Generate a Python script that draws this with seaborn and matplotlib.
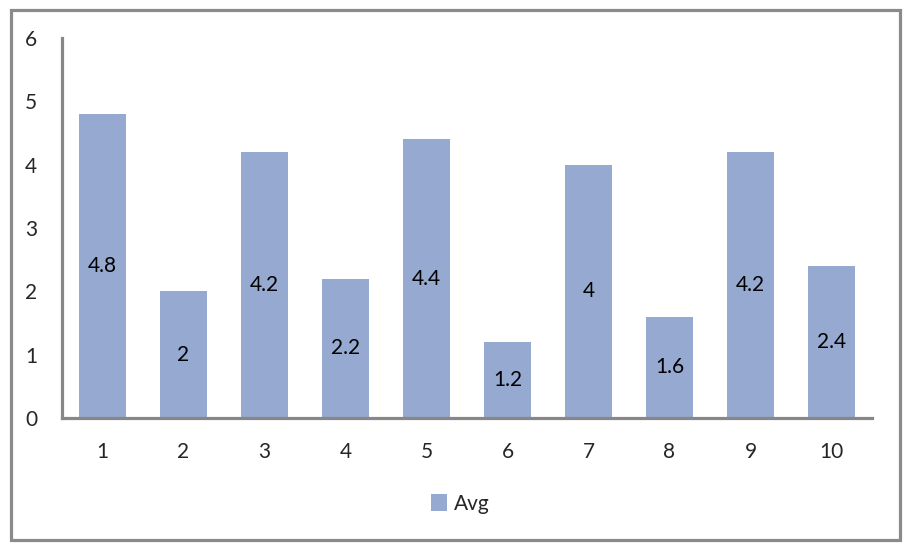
import matplotlib
matplotlib.use("Agg")
import matplotlib.pyplot as plt
import seaborn as sns
import pandas as pd
from matplotlib.patches import Rectangle, Patch

categories = ["1", "2", "3", "4", "5", "6", "7", "8", "9", "10"]
avg = [4.8, 2, 4.2, 2.2, 4.4, 1.2, 4, 1.6, 4.2, 2.4]
labels = ["4.8", "2", "4.2", "2.2", "4.4", "1.2", "4", "1.6", "4.2", "2.4"]
series_name = "Avg"
yticks = [0, 1, 2, 3, 4, 5, 6]

sns.set_theme(style="white")
plt.rcParams['font.family'] = ['Lato', 'DejaVu Sans']

df = pd.DataFrame({"cat": categories, "val": avg})
bar_color = "#95a9d1"
grey = "#878787"
fs = 15

fig = plt.figure(figsize=(9.16, 5.53), dpi=100)
W, H = 916, 553
ax = fig.add_axes([62 / W, (H - 418) / H, (872 - 62) / W, (418 - 38) / H])

sns.barplot(data=df, x="cat", y="val", color=bar_color, saturation=1,
            width=0.57, ax=ax, edgecolor="none")

for i, (v, lab) in enumerate(zip(avg, labels)):
    ax.text(i, v / 2, lab, ha="center", va="center", fontsize=fs, color="black")

ax.set_ylim(0, 6)
ax.set_xlim(-0.5, len(categories) - 0.5)
ax.set_yticks(yticks)
ax.set_yticklabels([str(t) for t in yticks], fontsize=fs)
ax.tick_params(axis="x", labelsize=fs, length=0, pad=17)
ax.tick_params(axis="y", length=0, pad=18)
ax.set_xlabel("")
ax.set_ylabel("")
for s in ["top", "right"]:
    ax.spines[s].set_visible(False)
for s in ["left", "bottom"]:
    ax.spines[s].set_color(grey)
    ax.spines[s].set_linewidth(2.3)

# legend
handle = Patch(facecolor=bar_color, edgecolor="none", label=series_name)
fig.legend(handles=[handle], loc="center", bbox_to_anchor=(460 / W, (H - 504) / H),
           frameon=False, fontsize=fs, handlelength=0.8, handleheight=0.9,
           handletextpad=0.3)

# outer frame
fig.patches.append(Rectangle((11 / W, (H - 540) / H), (900 - 11) / W, (540 - 10) / H,
                             transform=fig.transFigure, fill=False,
                             edgecolor="#8a8a8a", linewidth=2.3))

fig.savefig("out.png", dpi=100)
